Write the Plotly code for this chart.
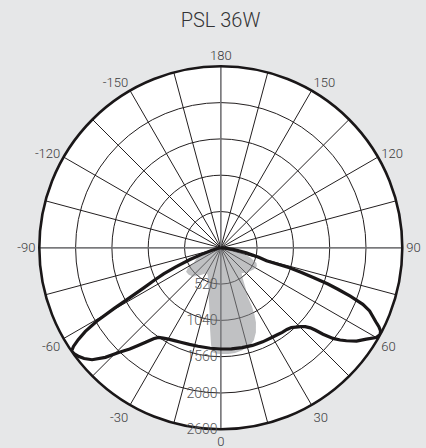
import plotly.graph_objects as go

# Black curve (one C-plane): angle (deg, 0 = down) and intensity
black_theta = [-90, -84, -78, -74, -71, -69, -67, -65.5, -64, -62.5, -61.3, -60.4, -59.4, -58.3,
               -57.2, -56.2, -55.3, -54.1, -52.5, -51, -49, -46.5, -44.3, -42, -40.5, -38.5,
               -36.5, -34.8, -32.5, -29.8, -26, -23, -18, -13, -6, 0, 6, 12, 18, 24, 29, 33,
               36, 39, 41.5, 43.5, 45.3, 47, 48.2, 49, 49.8, 51.1, 52.3, 53.5, 55.5, 57.9, 60,
               61.4, 62.5, 63.5, 64.5, 65.8, 67, 68.3, 69.5, 70.5, 71.3, 72.2, 73, 73.8, 74.2,
               76, 79, 82.5, 86, 90]
black_r = [0, 20, 60, 140, 300, 480, 700, 900, 1060, 1250, 1480, 1750, 2060, 2280,
           2430, 2540, 2600, 2590, 2560, 2520, 2444, 2280, 2095, 1950, 1850, 1730,
           1620, 1564, 1535, 1508, 1484, 1470, 1455, 1447, 1447, 1450, 1455, 1462, 1470, 1475, 1477, 1485,
           1497, 1505, 1525, 1565, 1605, 1655, 1720, 1800, 1917, 2066, 2160, 2238, 2360, 2461, 2570,
           2600, 2580, 2530, 2460, 2383, 2316, 2190, 1980, 1780, 1620, 1400, 1200, 1025, 680,
           560, 371, 176, 60, 0]

# Grey filled curve (other C-plane)
grey_theta = [-90, -84, -78, -72, -67, -62, -58, -55.3, -50, -44, -37, -31, -28, -25, -22, -18,
              -14.8, -12, -9.9, -7.5, -5.8, -4.8, -2, 0, 4, 7.7, 11.5, 15.3, 17.5, 19.7, 22.6,
              25.3, 26.8, 28, 28.8, 31.2, 35.1, 39.2, 45, 51, 57, 62.8, 67, 72, 78, 84, 90]
grey_r = [0, 80, 180, 290, 370, 430, 560, 605, 600, 570, 494, 430, 416, 440, 487, 580,
          689, 810, 937, 1176, 1387, 1500, 1520, 1523, 1525, 1522, 1500, 1475, 1445, 1405, 1309,
          1178, 1066, 948, 792, 695, 552, 472, 505, 536, 565, 581, 555, 440, 280, 120, 0]

# Axis ticks
radial_ticks = [520, 1040, 1560, 2080, 2600]
r_max = 2600
angle_vals = list(range(0, 360, 15))
angle_labels = ["0", "", "30", "", "60", "", "90", "", "120", "", "150", "",
                "180", "", "-150", "", "-120", "", "-90", "", "-60", "", "-30", ""]

# Cross-hair axis lines (0/180 and 90/-90)
cross_theta = [180, 0, 0, None, 90, 0, -90]
cross_r = [r_max, 0, r_max, None, r_max, 0, r_max]

fig = go.Figure()
fig.add_trace(go.Scatterpolar(theta=grey_theta, r=grey_r, mode="lines", fill="toself",
                              fillcolor="rgba(140,142,145,0.55)", line=dict(width=0),
                              hoverinfo="skip", showlegend=False))
fig.add_trace(go.Scatterpolar(theta=cross_theta, r=cross_r, mode="lines",
                              line=dict(color="#808285", width=1.3),
                              hoverinfo="skip", showlegend=False))
fig.add_trace(go.Scatterpolar(theta=black_theta, r=black_r, mode="lines",
                              line=dict(color="#1a1718", width=3.2),
                              cliponaxis=False, showlegend=False))

cx, cy, R = 220.8, 247.8, 181.5
W, H = 426, 448
fig.update_layout(
    width=W, height=H,
    margin=dict(l=0, r=0, t=0, b=0),
    paper_bgcolor="#e6e7e8",
    font=dict(family="Roboto", color="#3a3a3c"),
    title=dict(text="PSL 36W", x=220.5 / W, y=1 - 20 / H, xanchor="center", yanchor="middle",
               font=dict(size=20, family="Roboto", weight=300, color="#333335")),
    polar=dict(
        domain=dict(x=[(cx - R) / W, (cx + R) / W], y=[(H - (cy + R)) / H, (H - (cy - R)) / H]),
        bgcolor="white",
        angularaxis=dict(rotation=-90, direction="counterclockwise",
                         tickmode="array", tickvals=angle_vals, ticktext=angle_labels,
                         showline=True, linecolor="#1a1718", linewidth=2.6,
                         gridcolor="#231f20", gridwidth=0.8, ticks="",
                         tickfont=dict(size=13, family="Roboto", weight=300, color="#3a3a3c")),
        radialaxis=dict(range=[0, r_max], tickmode="array", tickvals=radial_ticks,
                        angle=-90, tickangle=-90, showline=False, ticks="",
                        gridcolor="#231f20", gridwidth=0.8,
                        tickfont=dict(size=14, family="Roboto", weight=300, color="#58595b")),
    ),
)
fig.write_html("out.html", config={"displayModeBar": False},
               post_script="document.body.style.margin='0';"
                           "document.body.style.background='#e6e7e8';")
